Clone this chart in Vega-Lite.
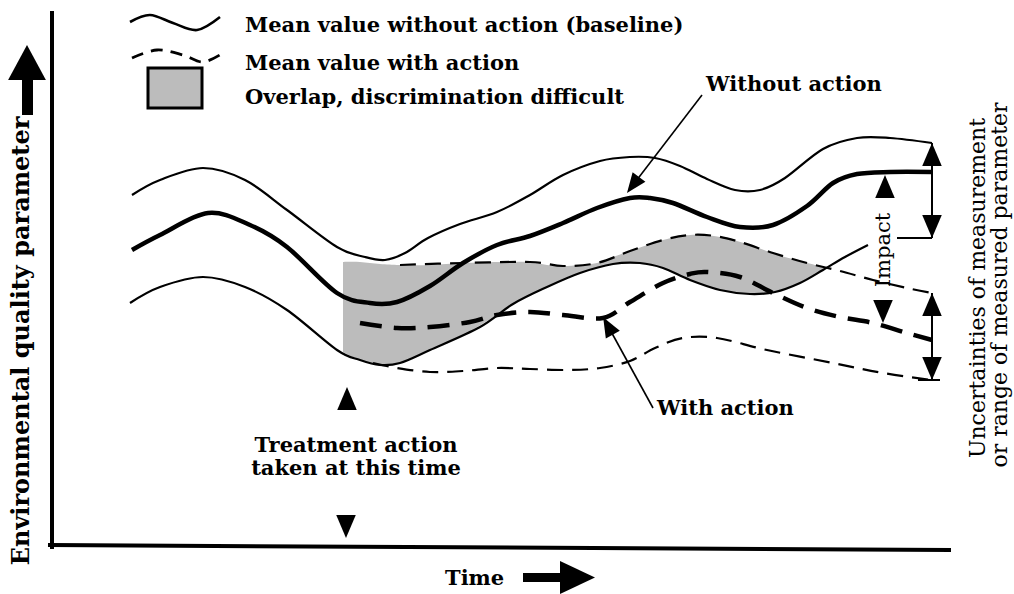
{
  "$schema": "https://vega.github.io/schema/vega-lite/v6.json",
  "width": 1014,
  "height": 594,
  "padding": 0,
  "autosize": {"type": "none"},
  "background": "white",
  "config": {"view": {"stroke": null}},
  "datasets": {
    "baseUpper": [{"time":132,"quality":399},{"time":160,"quality":414},{"time":203,"quality":426},{"time":245,"quality":414},{"time":287,"quality":384},{"time":337,"quality":347},{"time":365,"quality":337},{"time":385,"quality":334},{"time":405,"quality":341},{"time":428,"quality":356},{"time":460,"quality":370},{"time":497,"quality":382},{"time":530,"quality":399},{"time":563,"quality":419},{"time":600,"quality":433},{"time":630,"quality":437},{"time":655,"quality":436},{"time":680,"quality":428},{"time":707,"quality":415},{"time":735,"quality":404},{"time":760,"quality":404},{"time":785,"quality":416},{"time":823,"quality":445},{"time":857,"quality":456},{"time":890,"quality":456},{"time":932,"quality":451}],
    "baseMean": [{"time":132,"quality":344},{"time":160,"quality":359},{"time":208,"quality":381},{"time":250,"quality":369},{"time":287,"quality":347},{"time":337,"quality":301},{"time":370,"quality":291},{"time":397,"quality":292},{"time":430,"quality":308},{"time":463,"quality":331},{"time":497,"quality":349},{"time":530,"quality":358},{"time":563,"quality":371},{"time":597,"quality":386},{"time":630,"quality":396},{"time":650,"quality":396},{"time":673,"quality":391},{"time":707,"quality":377},{"time":740,"quality":367},{"time":773,"quality":369},{"time":807,"quality":388},{"time":833,"quality":411},{"time":857,"quality":420},{"time":890,"quality":422},{"time":932,"quality":422}],
    "baseLower": [{"time":130,"quality":291},{"time":160,"quality":307},{"time":203,"quality":317},{"time":245,"quality":307},{"time":287,"quality":284},{"time":337,"quality":244},{"time":360,"quality":234},{"time":380,"quality":229},{"time":400,"quality":231},{"time":430,"quality":244},{"time":480,"quality":267},{"time":513,"quality":290},{"time":547,"quality":307},{"time":580,"quality":321},{"time":613,"quality":330},{"time":640,"quality":331},{"time":663,"quality":326},{"time":690,"quality":314},{"time":720,"quality":304},{"time":750,"quality":300},{"time":775,"quality":302},{"time":800,"quality":311},{"time":823,"quality":324},{"time":845,"quality":337},{"time":868,"quality":349}],
    "actUpper": [{"time":400,"quality":329},{"time":463,"quality":331},{"time":530,"quality":332},{"time":563,"quality":328},{"time":597,"quality":331},{"time":630,"quality":343},{"time":663,"quality":354},{"time":690,"quality":359},{"time":715,"quality":358},{"time":740,"quality":352},{"time":773,"quality":341},{"time":807,"quality":331},{"time":840,"quality":323},{"time":873,"quality":314},{"time":907,"quality":306},{"time":932,"quality":301}],
    "actMean": [{"time":360,"quality":271},{"time":397,"quality":266},{"time":430,"quality":267},{"time":470,"quality":272},{"time":497,"quality":279},{"time":530,"quality":282},{"time":563,"quality":279},{"time":603,"quality":276},{"time":630,"quality":292},{"time":663,"quality":311},{"time":690,"quality":320},{"time":707,"quality":322},{"time":740,"quality":317},{"time":773,"quality":301},{"time":807,"quality":286},{"time":840,"quality":277},{"time":873,"quality":271},{"time":907,"quality":261},{"time":932,"quality":254}],
    "actLower": [{"time":373,"quality":231},{"time":397,"quality":226},{"time":430,"quality":222},{"time":463,"quality":223},{"time":497,"quality":226},{"time":530,"quality":225},{"time":567,"quality":224},{"time":600,"quality":226},{"time":630,"quality":233},{"time":655,"quality":246},{"time":683,"quality":256},{"time":717,"quality":256},{"time":767,"quality":244},{"time":833,"quality":231},{"time":883,"quality":221},{"time":932,"quality":214}],
    "overlap": [{"time":343,"upper":332,"lower":242},{"time":360,"upper":332,"lower":234},{"time":380,"upper":330,"lower":229},{"time":400,"upper":329,"lower":231},{"time":430,"upper":329,"lower":244},{"time":463,"upper":331,"lower":259},{"time":497,"upper":332,"lower":279},{"time":513,"upper":332,"lower":290},{"time":530,"upper":332,"lower":299},{"time":547,"upper":329,"lower":307},{"time":563,"upper":328,"lower":314},{"time":580,"upper":329,"lower":321},{"time":597,"upper":331,"lower":326},{"time":613,"upper":337,"lower":330},{"time":630,"upper":343,"lower":331},{"time":663,"upper":354,"lower":326},{"time":690,"upper":359,"lower":314},{"time":720,"upper":357,"lower":304},{"time":750,"upper":349,"lower":300},{"time":775,"upper":340,"lower":302},{"time":800,"upper":333,"lower":311},{"time":823,"upper":327,"lower":324},{"time":828,"upper":326,"lower":326}],
    "legendSolid": [{"time":130,"quality":572},{"time":150,"quality":579},{"time":173,"quality":571},{"time":197,"quality":564},{"time":220,"quality":577}],
    "legendDashed": [{"time":132,"quality":536},{"time":157,"quality":544},{"time":183,"quality":539},{"time":203,"quality":532},{"time":223,"quality":541}],
    "legendBox": [{"time":148,"time2":202,"quality":486,"quality2":526}],
    "axes": [{"time":52,"quality":581,"time2":52,"quality2":47},{"time":50,"quality":49,"time2":949,"quality2":44}],
    "leaders": [{"time":702,"quality":499,"time2":633,"quality2":409},{"time":653,"quality":186,"time2":608,"quality2":268}],
    "brackets": [{"time":932,"quality":451,"time2":932,"quality2":356},{"time":897,"quality":356,"time2":932,"quality2":356},{"time":932,"quality":301,"time2":932,"quality2":214},{"time":918,"quality":214,"time2":940,"quality2":214}],
    "yShaft": [{"time":27.5,"quality":479,"time2":27.5,"quality2":516}],
    "xShaft": [{"time":523,"quality":16.5,"time2":562,"quality2":16.5}],
    "upHeads": [{"time":347,"quality":195.5},{"time":885,"quality":407.5},{"time":932,"quality":439.5},{"time":932,"quality":289.5}],
    "downHeads": [{"time":346,"quality":67.5},{"time":883,"quality":282.5},{"time":932,"quality":367.5},{"time":932,"quality":225.5}],
    "headWithout": [{"time":633,"quality":409}],
    "headWith": [{"time":608,"quality":268}],
    "yHead": [{"time":27,"quality":531.5}],
    "xHead": [{"time":577.5,"quality":16.5}],
    "legendText": [{"time":245,"quality":562,"label":"Mean value without action (baseline)"},{"time":245,"quality":524,"label":"Mean value with action"},{"time":245,"quality":490,"label":"Overlap, discrimination difficult"},{"time":706,"quality":503,"label":"Without action"},{"time":657,"quality":179,"label":"With action"},{"time":445,"quality":9,"label":"Time"}],
    "treatText": [{"time":356,"quality":142,"label":"Treatment action"},{"time":356,"quality":119,"label":"taken at this time"}],
    "yTitle": [{"time":22,"quality":253,"label":"Environmental quality parameter"}],
    "rightText": [{"time":978,"quality":306,"label":"Uncertainties of measurement"},{"time":1000,"quality":309,"label":"or range of measured parameter"}],
    "impactText": [{"time":884,"quality":344,"label":"Impact"}]
  },
  "encoding": {
    "x": {"field": "time", "type": "quantitative", "scale": {"domain": [0, 1014], "nice": false, "zero": false}, "axis": null},
    "y": {"field": "quality", "type": "quantitative", "scale": {"domain": [0, 594], "nice": false, "zero": false}, "axis": null}
  },
  "layer": [
    {"data": {"name": "overlap"}, "mark": {"type": "area", "interpolate": "cardinal", "color": "#bcbcbc"},
     "encoding": {"y": {"field": "upper", "type": "quantitative"}, "y2": {"field": "lower"}}},
    {"data": {"name": "legendBox"}, "mark": {"type": "rect", "fill": "#bcbcbc", "stroke": "black", "strokeWidth": 3},
     "encoding": {"x2": {"field": "time2"}, "y2": {"field": "quality2"}}},
    {"data": {"name": "baseUpper"}, "mark": {"type": "line", "interpolate": "cardinal", "color": "black", "strokeWidth": 2.2}},
    {"data": {"name": "baseLower"}, "mark": {"type": "line", "interpolate": "cardinal", "color": "black", "strokeWidth": 2.2}},
    {"data": {"name": "baseMean"}, "mark": {"type": "line", "interpolate": "cardinal", "color": "black", "strokeWidth": 4.5}},
    {"data": {"name": "actUpper"}, "mark": {"type": "line", "interpolate": "cardinal", "color": "black", "strokeWidth": 2.2, "strokeDash": [16, 9]}},
    {"data": {"name": "actLower"}, "mark": {"type": "line", "interpolate": "cardinal", "color": "black", "strokeWidth": 2.2, "strokeDash": [16, 9]}},
    {"data": {"name": "actMean"}, "mark": {"type": "line", "interpolate": "cardinal", "color": "black", "strokeWidth": 4.5, "strokeDash": [22, 12]}},
    {"data": {"name": "legendSolid"}, "mark": {"type": "line", "interpolate": "cardinal", "color": "black", "strokeWidth": 2.6}},
    {"data": {"name": "legendDashed"}, "mark": {"type": "line", "interpolate": "cardinal", "color": "black", "strokeWidth": 2.8, "strokeDash": [12, 8]}},
    {"data": {"name": "axes"}, "mark": {"type": "rule", "color": "black", "strokeWidth": 4, "strokeCap": "square"},
     "encoding": {"x2": {"field": "time2"}, "y2": {"field": "quality2"}}},
    {"data": {"name": "leaders"}, "mark": {"type": "rule", "color": "black", "strokeWidth": 1.6},
     "encoding": {"x2": {"field": "time2"}, "y2": {"field": "quality2"}}},
    {"data": {"name": "brackets"}, "mark": {"type": "rule", "color": "black", "strokeWidth": 2},
     "encoding": {"x2": {"field": "time2"}, "y2": {"field": "quality2"}}},
    {"data": {"name": "yShaft"}, "mark": {"type": "rule", "color": "black", "strokeWidth": 11},
     "encoding": {"x2": {"field": "time2"}, "y2": {"field": "quality2"}}},
    {"data": {"name": "xShaft"}, "mark": {"type": "rule", "color": "black", "strokeWidth": 9},
     "encoding": {"x2": {"field": "time2"}, "y2": {"field": "quality2"}}},
    {"data": {"name": "upHeads"}, "mark": {"type": "point", "shape": "M0,-1L0.85,1L-0.85,1Z", "size": 529, "filled": true, "color": "black", "opacity": 1, "angle": 0}},
    {"data": {"name": "downHeads"}, "mark": {"type": "point", "shape": "M0,-1L0.85,1L-0.85,1Z", "size": 529, "filled": true, "color": "black", "opacity": 1, "angle": 180}},
    {"data": {"name": "headWithout"}, "mark": {"type": "point", "shape": "M0,-1L0.8,1L-0.8,1Z", "size": 400, "filled": true, "color": "black", "opacity": 1, "angle": 217}},
    {"data": {"name": "headWith"}, "mark": {"type": "point", "shape": "M0,-1L0.8,1L-0.8,1Z", "size": 400, "filled": true, "color": "black", "opacity": 1, "angle": 331}},
    {"data": {"name": "yHead"}, "mark": {"type": "point", "shape": "M0,-1L1.08,1L-1.08,1Z", "size": 1225, "filled": true, "color": "black", "opacity": 1, "angle": 0}},
    {"data": {"name": "xHead"}, "mark": {"type": "point", "shape": "M0,-1L0.94,1L-0.94,1Z", "size": 1225, "filled": true, "color": "black", "opacity": 1, "angle": 90}},
    {"data": {"name": "legendText"}, "mark": {"type": "text", "align": "left", "baseline": "alphabetic", "font": "DejaVu Serif", "fontWeight": "bold", "fontSize": 21, "color": "black"},
     "encoding": {"text": {"field": "label"}}},
    {"data": {"name": "treatText"}, "mark": {"type": "text", "align": "center", "baseline": "alphabetic", "font": "DejaVu Serif", "fontWeight": "bold", "fontSize": 21, "color": "black"},
     "encoding": {"text": {"field": "label"}}},
    {"data": {"name": "yTitle"}, "mark": {"type": "text", "align": "center", "baseline": "middle", "angle": 270, "font": "DejaVu Serif", "fontWeight": "bold", "fontSize": 24, "color": "black"},
     "encoding": {"text": {"field": "label"}}},
    {"data": {"name": "rightText"}, "mark": {"type": "text", "align": "center", "baseline": "middle", "angle": 270, "font": "DejaVu Serif", "fontWeight": "normal", "fontSize": 22, "color": "black"},
     "encoding": {"text": {"field": "label"}}},
    {"data": {"name": "impactText"}, "mark": {"type": "text", "align": "center", "baseline": "middle", "angle": 270, "font": "DejaVu Serif", "fontWeight": "normal", "fontSize": 21, "color": "black"},
     "encoding": {"text": {"field": "label"}}}
  ]
}
